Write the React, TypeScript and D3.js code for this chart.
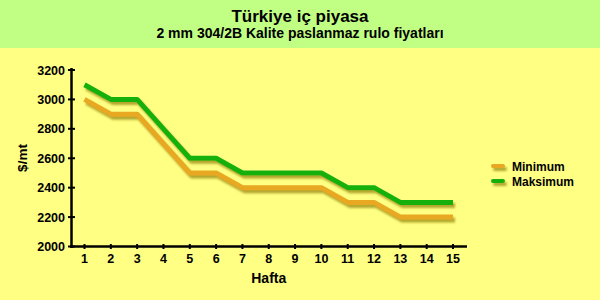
import React from "react";
import * as d3 from "d3";

const weeks = [1, 2, 3, 4, 5, 6, 7, 8, 9, 10, 11, 12, 13, 14, 15];
const minimum = [3000, 2900, 2900, 2700, 2500, 2500, 2400, 2400, 2400, 2400, 2300, 2300, 2200, 2200, 2200];
const maksimum = [3100, 3000, 3000, 2800, 2600, 2600, 2500, 2500, 2500, 2500, 2400, 2400, 2300, 2300, 2300];
const yTicks = [2000, 2200, 2400, 2600, 2800, 3000, 3200];
const seriesNames = ["Minimum", "Maksimum"];
const seriesColors = ["#e8a820", "#12b010"];

export default function App() {
  const W = 600, H = 300;
  const x = d3.scaleLinear().domain([1, 15]).range([84.5, 453]);
  const y = d3.scaleLinear().domain([2000, 3200]).range([246.5, 70]);
  const line = d3.line<number>().x((_, i) => x(weeks[i])).y((d) => y(d));
  const font = "Arial, 'Liberation Sans', sans-serif";
  const series = [minimum, maksimum];
  return (
    <svg width={W} height={H} style={{ position: "absolute", left: 0, top: 0 }} fontFamily={font}>
      <defs>
        <filter id="sh" filterUnits="userSpaceOnUse" x="0" y="0" width="600" height="300">
          <feGaussianBlur in="SourceAlpha" stdDeviation="1.2" />
          <feOffset dx="2" dy="3" result="b" />
          <feFlood floodColor="#9a8a10" floodOpacity="0.75" />
          <feComposite in2="b" operator="in" />
          <feMerge>
            <feMergeNode />
            <feMergeNode in="SourceGraphic" />
          </feMerge>
        </filter>
      </defs>
      <rect x={0} y={0} width={W} height={H} fill="#ffff84" />
      <rect x={0} y={0} width={W} height={48} fill="#c0ff84" />
      <text x={300} y={22} textAnchor="middle" fontWeight="bold" fontSize={17}>Türkiye iç piyasa</text>
      <text x={300} y={38} textAnchor="middle" fontWeight="bold" fontSize={14}>2 mm 304/2B Kalite paslanmaz rulo fiyatları</text>

      {series.map((s, k) => (
        <path key={k} d={line(s) || ""} fill="none" stroke={seriesColors[k]} strokeWidth={5} strokeLinejoin="round" filter="url(#sh)" />
      ))}

      <line x1={71.5} x2={71.5} y1={68} y2={248} stroke="#000" strokeWidth={2.5} />
      <line x1={70} x2={467} y1={246.5} y2={246.5} stroke="#000" strokeWidth={2.5} />
      {yTicks.map((t) => (
        <g key={t}>
          <line x1={68} x2={75} y1={y(t)} y2={y(t)} stroke="#000" strokeWidth={2} />
          <text x={65} y={y(t) + 4.5} textAnchor="end" fontWeight="bold" fontSize={12.5}>{t}</text>
        </g>
      ))}
      {weeks.map((w) => (
        <g key={w}>
          <line x1={x(w)} x2={x(w)} y1={244} y2={249} stroke="#000" strokeWidth={2} />
          <text x={x(w)} y={263} textAnchor="middle" fontWeight="bold" fontSize={12.5}>{w}</text>
        </g>
      ))}
      <text x={x(8)} y={283} textAnchor="middle" fontWeight="bold" fontSize={14}>Hafta</text>
      <text transform={`translate(27,158) rotate(-90)`} textAnchor="middle" fontWeight="bold" fontSize={13.5}>$/mt</text>

      {seriesNames.map((n, k) => (
        <g key={n}>
          <rect x={491} y={164 + k * 15} width={14} height={4} rx={2} fill={seriesColors[k]} filter="url(#sh)" />
          <text x={512} y={170.5 + k * 15} fontWeight="bold" fontSize={12}>{n}</text>
        </g>
      ))}
    </svg>
  );
}
